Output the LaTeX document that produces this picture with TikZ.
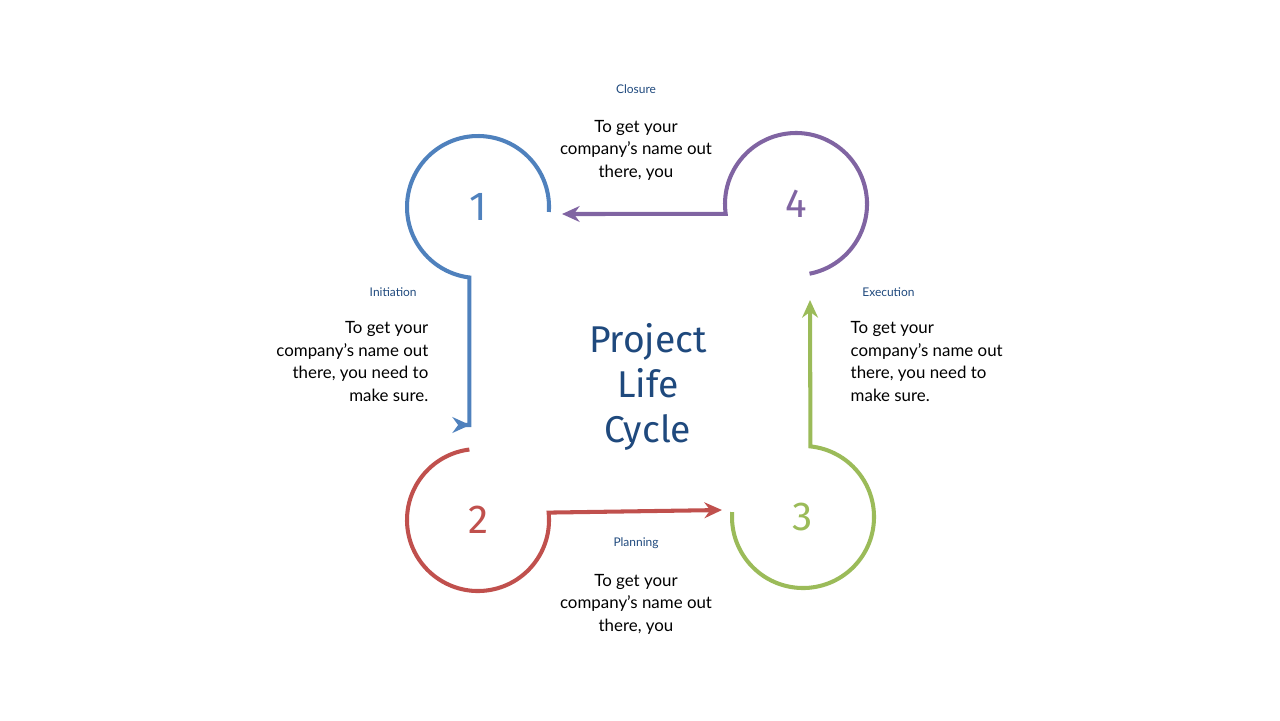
\documentclass[tikz,border=0pt]{standalone}
\usepackage{fontspec}
\setmainfont{Lato}
\newfontfamily\numfont{Fira Sans}
\usetikzlibrary{arrows.meta}
\definecolor{cblue}{HTML}{4F81BD}
\definecolor{cred}{HTML}{C0504D}
\definecolor{cgreen}{HTML}{9BBB59}
\definecolor{cpurple}{HTML}{8064A2}
\definecolor{navy}{HTML}{1F497D}
\tikzset{
  loop/.style={line width=1.15pt, -{Stealth[length=5pt,width=4.5pt]}},
  num/.style={font=\numfont\fontsize{11.5}{12}\selectfont},
  stage/.style={font=\fontsize{3.4}{4}\selectfont, text=navy},
  body/.style={font=\fontsize{4.8}{6.4}\selectfont, align=#1, inner sep=0pt},
}
\begin{document}
\begin{tikzpicture}[x=0.01cm,y=0.01cm]
    \useasboundingbox (0,0) rectangle (1280,720);
    \coordinate (c1) at (478,513);
    \coordinate (c2) at (478,200);
    \coordinate (c3) at (803,203);
    \coordinate (c4) at (796,516);
    \coordinate (e1) at (470,295);
    \coordinate (e2) at (722,210);
    \coordinate (e3) at (810,420);
    \coordinate (e4) at (562,506);

    \node[num, text=cblue] (n1) at (c1) {1};
    \node[num, text=cred] (n2) at (c2) {2};
    \node[num, text=cgreen] (n3) at (c3) {3};
    \node[num, text=cpurple] (n4) at (c4) {4};

    \draw[loop, cblue] ([shift={(-4:71)}]c1) arc (-4:263:71) |- (e1);
    \draw[loop, cred] ([shift={(97:71)}]c2) arc (97:366:71) -- (e2);
    \draw[loop, cgreen] ([shift={(176:71)}]c3) arc (176:444:71) -- (e3);
    \draw[loop, cpurple] ([shift={(281:71)}]c4) arc (281:548:71) -- (e4);

    \node[font=\numfont\fontsize{10.6}{12.8}\selectfont, text=navy, align=center] (title) at (648,333) {Project\\Life\\Cycle};

    \node[stage] (s4) at (636,631) {Closure};
    \node[body=center] (t4) at (636,570) {To get your\\company’s name out\\there, you};
    \node[stage, anchor=east] (s1) at (429,428) {Initiation};
    \node[body=right, anchor=north east] (t1) at (429,399) {To get your\\company’s name out\\there, you need to\\make sure.};
    \node[stage, anchor=west] (s3) at (850,428) {Execution};
    \node[body=left, anchor=north west] (t3) at (850,399) {To get your\\company’s name out\\there, you need to\\make sure.};
    \node[stage] (s2) at (636,177) {Planning};
    \node[body=center] (t2) at (636,116) {To get your\\company’s name out\\there, you};
\end{tikzpicture}
\end{document}
